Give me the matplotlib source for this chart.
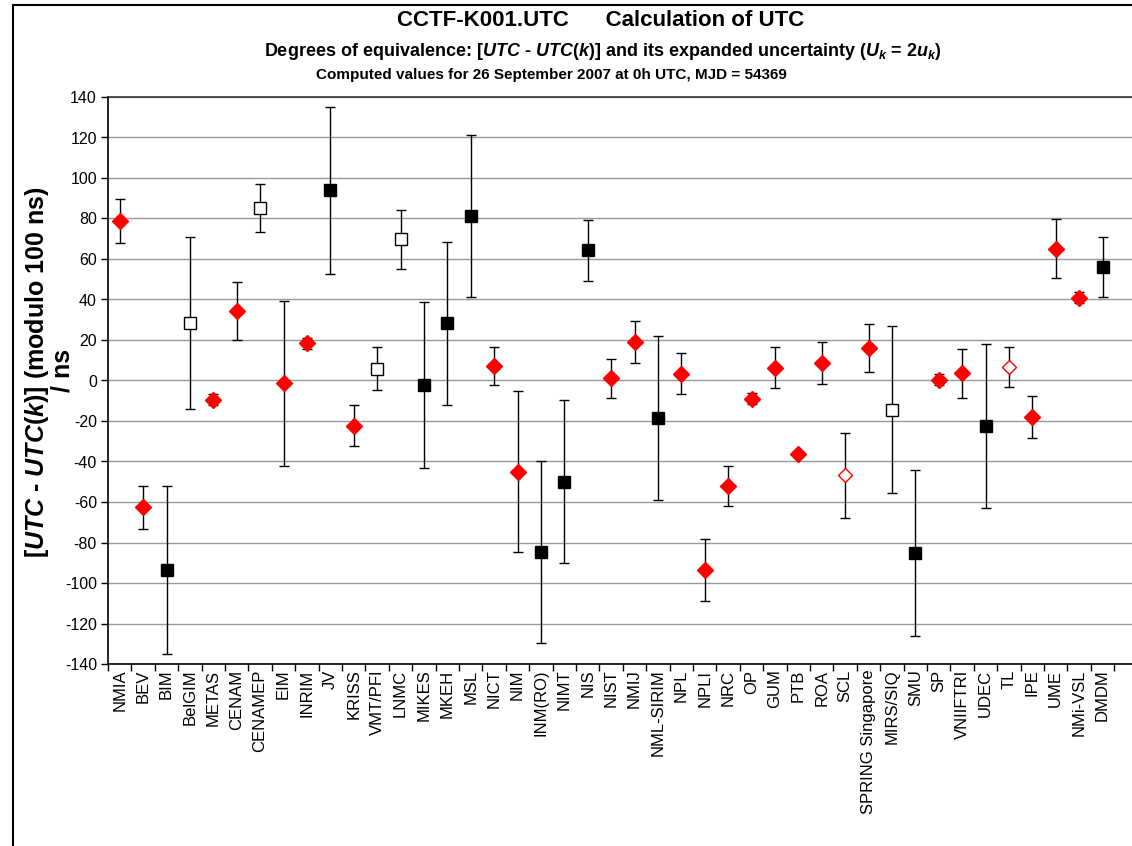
import matplotlib
matplotlib.use('Agg')
import matplotlib.pyplot as plt
from matplotlib.lines import Line2D

plt.rcParams['font.family'] = ['Liberation Sans', 'DejaVu Sans']
plt.rcParams['mathtext.fontset'] = 'custom'
plt.rcParams['mathtext.rm'] = 'Liberation Sans:bold'
plt.rcParams['mathtext.it'] = 'Liberation Sans:italic:bold'
plt.rcParams['mathtext.bf'] = 'Liberation Sans:bold'
plt.rcParams['axes.unicode_minus'] = False

# laboratories, in the order of the chart
labs = ['NMIA', 'BEV', 'BIM', 'BelGIM', 'METAS', 'CENAM', 'CENAMEP', 'EIM', 'INRIM', 'JV',
        'KRISS', 'VMT/PFI', 'LNMC', 'MIKES', 'MKEH', 'MSL', 'NICT', 'NIM', 'INM(RO)', 'NIMT',
        'NIS', 'NIST', 'NMIJ', 'NML-SIRIM', 'NPL', 'NPLI', 'NRC', 'OP', 'GUM', 'PTB',
        'ROA', 'SCL', 'SPRING Singapore', 'MIRS/SIQ', 'SMU', 'SP', 'VNIIFTRI', 'UDEC', 'TL', 'IPE',
        'UME', 'NMi-VSL', 'DMDM']

# [UTC - UTC(k)] / ns
dev = [78.7, -62.6, -93.5, 28.3, -9.5, 34.5, 85.2, -1.4, 18.4, 94.0,
       -22.3, 5.9, 69.8, -2.0, 28.3, 81.2, 7.2, -45.0, -84.6, -50.0,
       64.2, 1.0, 19.0, -18.7, 3.4, -93.5, -52.1, -9.0, 6.4, -36.3,
       8.8, -46.8, 16.1, -14.5, -85.2, 0.4, 3.5, -22.6, 6.7, -18.1,
       65.1, 40.9, 55.9]

# expanded uncertainty U_k / ns
unc = [10.9, 10.7, 41.5, 42.4, 2.7, 14.3, 12.0, 40.7, 2.7, 41.3,
       10.1, 10.5, 14.5, 41.0, 40.3, 40.0, 9.5, 39.8, 45.0, 40.2,
       14.9, 9.8, 10.3, 40.5, 10.2, 15.2, 10.1, 2.7, 10.3, 1.6,
       10.3, 21.0, 11.9, 41.2, 41.0, 2.8, 11.9, 40.6, 10.0, 10.3,
       14.5, 2.8, 14.8]

# marker style of each point
kind = ['rd', 'rd', 'bs', 'os', 'rd', 'rd', 'os', 'rd', 'rd', 'bs',
        'rd', 'os', 'os', 'bs', 'bs', 'bs', 'rd', 'rd', 'bs', 'bs',
        'bs', 'rd', 'rd', 'bs', 'rd', 'rd', 'rd', 'rd', 'rd', 'rd',
        'rd', 'od', 'rd', 'os', 'bs', 'rd', 'rd', 'bs', 'od', 'rd',
        'rd', 'rd', 'bs']

styles = {
    'rd': dict(marker='D', ms=8, mfc='#ff0000', mec='#ff0000'),
    'od': dict(marker='D', ms=7, mfc='white', mec='#ff0000', mew=1),
    'bs': dict(marker='s', ms=8.5, mfc='black', mec='black'),
    'os': dict(marker='s', ms=8.5, mfc='white', mec='black', mew=1),
}

fig = plt.figure(figsize=(11.32, 8.46), dpi=100)
ax = fig.add_axes([108 / 1132, 1 - 664 / 846, 1 - 108 / 1132, (664 - 97) / 846])

for i in range(len(labs)):
    ax.errorbar(i, dev[i], yerr=unc[i], fmt='none', ecolor='black', elinewidth=1,
                capsize=3.5, capthick=1, zorder=3)
    ax.plot(i, dev[i], ls='none', zorder=4, **styles[kind[i]])

ax.set_xlim(-0.5, 43.26)
ax.set_ylim(-140, 140)
ax.set_yticks(range(-140, 141, 20))
ax.grid(axis='y', color='#999999', lw=1)
ax.set_axisbelow(True)

ax.set_xticks([i + 0.5 for i in range(-1, len(labs))], minor=False)
ax.set_xticklabels([])
ax.set_xticks(range(len(labs)), minor=True)
ax.set_xticklabels(labs, minor=True, rotation=90, fontsize=12)
ax.tick_params(axis='x', which='minor', length=0, pad=4)
ax.tick_params(axis='x', which='major', length=5, direction='out', width=1)
ax.tick_params(axis='y', labelsize=11.5, length=5, direction='out', width=1, pad=3)

ax.spines['right'].set_visible(False)
ax.spines['top'].set_color('#333333')
for s in ['left', 'bottom', 'top']:
    ax.spines[s].set_linewidth(1.2)

# y axis title, two lines
fig.text(37 / 1132, 1 - 372 / 846, '[$UTC$ - $UTC$($k$)] (modulo 100 ns)', rotation=90,
         ha='center', va='center', fontsize=18, fontweight='bold')
fig.text(63 / 1132, 1 - 370 / 846, '/ ns', rotation=90,
         ha='center', va='center', fontsize=18, fontweight='bold')

fig.text(601 / 1132, 1 - 20 / 846, 'CCTF-K001.UTC      Calculation of UTC',
         ha='center', va='center', fontsize=16, fontweight='bold')
fig.text(603 / 1132, 1 - 52 / 846,
         'Degrees of equivalence: [$UTC$ - $UTC$($k$)] and its expanded uncertainty ($U_k$ = 2$u_k$)',
         ha='center', va='center', fontsize=13, fontweight='bold')
fig.text(551 / 1132, 1 - 75 / 846,
         'Computed values for 26 September 2007 at 0h UTC, MJD = 54369',
         ha='center', va='center', fontsize=11, fontweight='bold')

# page frame
fig.add_artist(Line2D([13 / 1132, 1], [1 - 5 / 846, 1 - 5 / 846], color='black', lw=1.5))
fig.add_artist(Line2D([13 / 1132, 13 / 1132], [0, 1 - 5 / 846], color='black', lw=1.5))

fig.savefig('out.png', dpi=100)
